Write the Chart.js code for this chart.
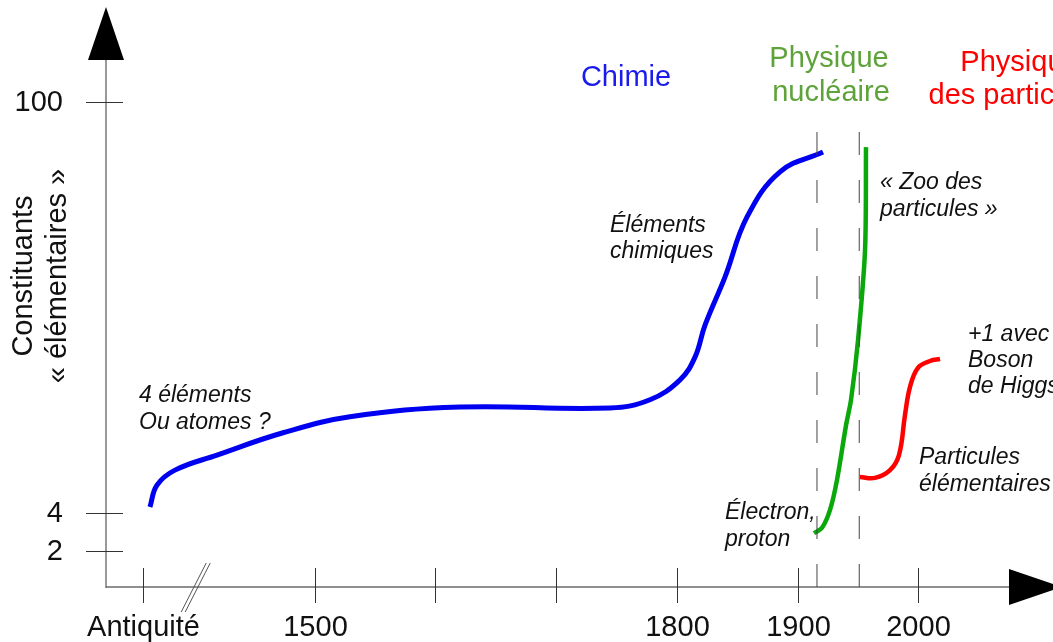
<!DOCTYPE html>
<html>
<head>
<meta charset="utf-8">
<script src="https://cdn.jsdelivr.net/npm/chart.js@4"></script>
<style>
    html, body { margin: 0; padding: 0; background: #fff; }
    canvas { display: block; }
</style>
</head>
<body>
<canvas id="chart" width="1053" height="642"></canvas>
<script>
// Schematic: x is in years (Antiquité placed on the broken part), y in schematic levels
const xTickYears = [1358, 1500, 1600, 1700, 1800, 1900, 2000];
const xTickLabels = ["Antiquité", "1500", "", "", "1800", "1900", "2000"];
const yTickValues = [7.4, 15.3, 100];
const yTickLabels = ["2", "4", "100"];

// Chimie: chemical elements
const blueYears = [1363.7, 1369.5, 1384.4, 1419.2, 1473.9, 1529.3, 1620.4, 1744.6, 1777.7, 1802.6, 1815, 1823.3, 1839.8, 1858.1, 1885.4, 1921];
const blueValues = [16.5, 21.0, 24.1, 27.2, 31.8, 35.1, 37.1, 36.9, 38.6, 42.7, 47.4, 54.0, 63.9, 76.3, 85.6, 89.7];

// Physique nucléaire: particle zoo
const greenYears = [1913.5, 1920.2, 1926.8, 1932.6, 1940.1, 1944.2, 1950.0, 1955.8, 1956.6];
const greenValues = [11.1, 12.2, 15.9, 22.1, 33.4, 38.6, 50.9, 69.5, 90.7];

// Physique des particules: elementary particles, +1 with Higgs
const redYears = [1951.6, 1964.0, 1976.5, 1983.9, 1988.9, 1993, 1999.6, 2009.6, 2017.9];
const redValues = [22.7, 22.5, 24.1, 27.2, 35.5, 41.2, 45.2, 46.6, 47.0];

// Dashed separators between the eras
const dashYears = [1916, 1951];
const dashTop = 94.6;
const breakYear = 1402;

const toPoints = (xs, ys) => xs.map((x, i) => ({ x: x, y: ys[i] }));

const FONT = "'Liberation Sans', Arial, sans-serif";

const annotations = [
    { text: "Chimie", x: 626, y: 78, color: "#1a1aee", size: 29, italic: false, align: "center" },
    { text: "Physique", x: 829, y: 59, color: "#5ea33a", size: 29, italic: false, align: "center" },
    { text: "nucléaire", x: 831, y: 93, color: "#5ea33a", size: 29, italic: false, align: "center" },
    { text: "Physique", x: 1020, y: 63, color: "#ff0000", size: 29, italic: false, align: "center" },
    { text: "des particules", x: 1018, y: 96, color: "#ff0000", size: 29, italic: false, align: "center" },
    { text: "4 éléments", x: 139, y: 396, color: "#111", size: 23, italic: true, align: "left" },
    { text: "Ou atomes ?", x: 139, y: 423, color: "#111", size: 23, italic: true, align: "left" },
    { text: "Éléments", x: 610, y: 226, color: "#111", size: 23, italic: true, align: "left" },
    { text: "chimiques", x: 610, y: 252, color: "#111", size: 23, italic: true, align: "left" },
    { text: "« Zoo des", x: 880, y: 183, color: "#111", size: 23, italic: true, align: "left" },
    { text: "particules »", x: 880, y: 210, color: "#111", size: 23, italic: true, align: "left" },
    { text: "+1 avec", x: 968, y: 335, color: "#111", size: 23, italic: true, align: "left" },
    { text: "Boson", x: 968, y: 361, color: "#111", size: 23, italic: true, align: "left" },
    { text: "de Higgs", x: 968, y: 387, color: "#111", size: 23, italic: true, align: "left" },
    { text: "Particules", x: 919, y: 458, color: "#111", size: 23, italic: true, align: "left" },
    { text: "élémentaires", x: 919, y: 485, color: "#111", size: 23, italic: true, align: "left" },
    { text: "Électron,", x: 725, y: 513, color: "#111", size: 23, italic: true, align: "left" },
    { text: "proton", x: 725, y: 540, color: "#111", size: 23, italic: true, align: "left" },
];

// Draws axes with arrows, crossing ticks, labels, break mark and texts
const schematicAxes = {
    id: "schematicAxes",
    beforeDatasetsDraw(chart) {
        const { ctx, chartArea, scales } = chart;
        const xs = scales.x, ys = scales.y;
        const x0 = chartArea.left, y0 = chartArea.bottom;
        ctx.save();

        // y axis
        ctx.strokeStyle = "#9a9a9a";
        ctx.lineWidth = 2;
        ctx.beginPath();
        ctx.moveTo(x0, y0 + 1);
        ctx.lineTo(x0, chartArea.top);
        ctx.stroke();

        // x axis
        ctx.strokeStyle = "#6a6a6a";
        ctx.lineWidth = 1.5;
        ctx.beginPath();
        ctx.moveTo(x0, y0);
        ctx.lineTo(chartArea.right, y0);
        ctx.stroke();

        // arrows
        ctx.fillStyle = "#000";
        ctx.beginPath();
        ctx.moveTo(x0, chartArea.top - 53);
        ctx.lineTo(x0 - 18, chartArea.top);
        ctx.lineTo(x0 + 18, chartArea.top);
        ctx.closePath();
        ctx.fill();
        ctx.beginPath();
        ctx.moveTo(chartArea.right + 53, y0);
        ctx.lineTo(chartArea.right, y0 - 18);
        ctx.lineTo(chartArea.right, y0 + 18);
        ctx.closePath();
        ctx.fill();

        // ticks
        ctx.strokeStyle = "#333";
        ctx.lineWidth = 1;
        ctx.fillStyle = "#111";
        ctx.font = "29px " + FONT;
        ctx.textBaseline = "middle";
        yTickValues.forEach((v, i) => {
            const py = Math.round(ys.getPixelForValue(v)) + 0.5;
            ctx.beginPath();
            ctx.moveTo(x0 - 20, py);
            ctx.lineTo(x0 + 17, py);
            ctx.stroke();
            ctx.textAlign = "right";
            ctx.fillText(yTickLabels[i], 63, py);
        });
        xTickYears.forEach((v, i) => {
            const px = Math.round(xs.getPixelForValue(v)) + 0.5;
            ctx.beginPath();
            ctx.moveTo(px, y0 - 19);
            ctx.lineTo(px, y0 + 16);
            ctx.stroke();
            ctx.textAlign = "center";
            ctx.fillText(xTickLabels[i], px, 628);
        });

        // axis break
        const bx = xs.getPixelForValue(breakYear);
        ctx.strokeStyle = "#555";
        ctx.lineWidth = 1;
        [-2, 2].forEach((d) => {
            ctx.beginPath();
            ctx.moveTo(bx + d - 13, y0 + 25);
            ctx.lineTo(bx + d + 12, y0 - 24);
            ctx.stroke();
        });

        // y axis title
        ctx.save();
        ctx.translate(0, 276);
        ctx.rotate(-Math.PI / 2);
        ctx.textAlign = "center";
        ctx.fillStyle = "#111";
        ctx.font = "29px " + FONT;
        ctx.fillText("Constituants", 0, 24);
        ctx.fillText("« élémentaires »", 0, 58);
        ctx.restore();

        // annotations
        annotations.forEach((a) => {
            ctx.font = (a.italic ? "italic " : "") + a.size + "px " + FONT;
            ctx.fillStyle = a.color;
            ctx.textAlign = a.align;
            ctx.textBaseline = "middle";
            ctx.fillText(a.text, a.x, a.y);
        });
        ctx.restore();
    },
};

const dashSets = dashYears.map((yr) => ({
    data: [{ x: yr, y: 0 }, { x: yr, y: dashTop }],
    borderColor: "#444",
    borderWidth: 1,
    borderDash: [23, 25],
    pointRadius: 0,
    tension: 0,
}));

new Chart(document.getElementById("chart"), {
    type: "line",
    data: {
        datasets: [
            ...dashSets,
            {
                data: toPoints(blueYears, blueValues),
                borderColor: "#0000f0",
                borderWidth: 5,
                pointRadius: 0,
                tension: 0.4,
            },
            {
                data: toPoints(greenYears, greenValues),
                borderColor: "#0aa80a",
                borderWidth: 4.5,
                pointRadius: 0,
                tension: 0.3,
            },
            {
                data: toPoints(redYears, redValues),
                borderColor: "#ff0000",
                borderWidth: 4.5,
                pointRadius: 0,
                tension: 0.4,
            },
        ],
    },
    options: {
        responsive: false,
        animation: false,
        devicePixelRatio: 1,
        layout: { padding: { left: 106, right: 44, top: 60, bottom: 55 } },
        plugins: { legend: { display: false }, tooltip: { enabled: false } },
        scales: {
            x: { type: "linear", min: 1327.3, max: 2075, display: false },
            y: { type: "linear", min: 0, max: 108.66, display: false },
        },
    },
    plugins: [schematicAxes],
});
</script>
</body>
</html>
